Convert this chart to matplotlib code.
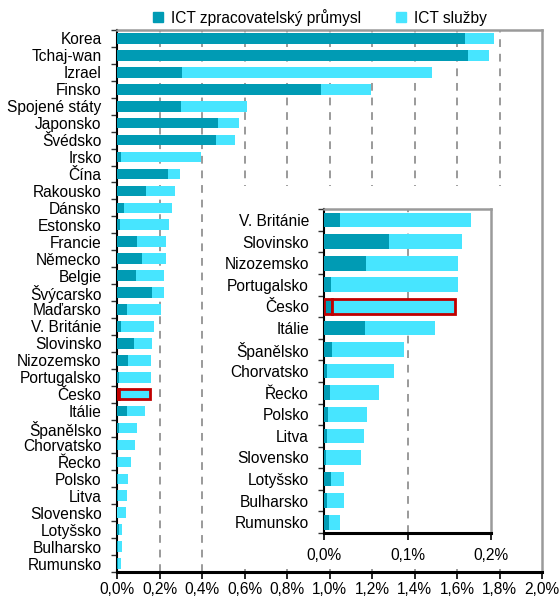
import matplotlib
matplotlib.use("Agg")
import matplotlib.pyplot as plt
from matplotlib.lines import Line2D
from matplotlib.patches import Rectangle
from matplotlib.ticker import FuncFormatter, FixedLocator

plt.rcParams['font.family'] = ['Liberation Sans', 'DejaVu Sans']

countries = ["Korea", "Tchaj-wan", "Izrael", "Finsko", "Spojené státy", "Japonsko",
             "Švédsko", "Irsko", "Čína", "Rakousko", "Dánsko", "Estonsko", "Francie",
             "Německo", "Belgie", "Švýcarsko", "Maďarsko", "V. Británie", "Slovinsko",
             "Nizozemsko", "Portugalsko", "Česko", "Itálie", "Španělsko", "Chorvatsko",
             "Řecko", "Polsko", "Litva", "Slovensko", "Lotyšsko", "Bulharsko", "Rumunsko"]
manufacturing = [1.638, 1.653, 0.306, 0.958, 0.301, 0.475, 0.466, 0.019, 0.240, 0.136,
                 0.033, 0.013, 0.094, 0.118, 0.089, 0.166, 0.047, 0.0188, 0.0777, 0.050,
                 0.0077, 0.009, 0.049, 0.0096, 0.003, 0.0068, 0.0048, 0.0032, 0.0016,
                 0.008, 0.003, 0.006]
services = [0.136, 0.098, 1.176, 0.235, 0.311, 0.101, 0.091, 0.376, 0.056, 0.137,
            0.227, 0.232, 0.135, 0.111, 0.134, 0.055, 0.160, 0.157, 0.088, 0.111,
            0.153, 0.148, 0.084, 0.086, 0.081, 0.059, 0.047, 0.045, 0.043,
            0.0156, 0.0206, 0.0128]
series_names = ["ICT zpracovatelský průmysl", "ICT služby"]
highlight = "Česko"
inset_start = "V. Británie"
main_ticks = [0.0, 0.2, 0.4, 0.6, 0.8, 1.0, 1.2, 1.4, 1.6, 1.8, 2.0]
inset_ticks = [0.0, 0.1, 0.2]

DARK = "#009BB4"
LIGHT = "#47E5FF"
RED = "#C00000"
GRAY = "#9A9A9A"
FS = 11.2

W, H = 560, 596
fig = plt.figure(figsize=(W / 100, H / 100), dpi=100)


def px_axes(l, t, r, b):
    return fig.add_axes([l / W, 1 - b / H, (r - l) / W, (b - t) / H])


def pct(v, pos):
    return ("%.1f%%" % v).replace(".", ",")


def draw(ax, names, man, ser, height, xmax, ticks, gridticks):
    n = len(names)
    ys = list(range(n))
    edge = [RED if c == highlight else "none" for c in names]
    lw = [2.0 if c == highlight else 0 for c in names]
    ax.barh(ys, man, height=height, color=DARK, edgecolor=edge, linewidth=lw, zorder=3)
    ax.barh(ys, ser, left=man, height=height, color=LIGHT, edgecolor=edge,
            linewidth=lw, zorder=3)
    ax.set_ylim(n - 0.5, -0.5)
    ax.set_xlim(0, xmax)
    ax.set_yticks(ys)
    ax.set_yticklabels(names, fontsize=FS)
    ax.yaxis.set_minor_locator(FixedLocator([i + 0.5 for i in range(-1, n)]))
    ax.tick_params(axis='y', which='major', length=0, pad=11)
    ax.tick_params(axis='y', which='minor', length=4, width=1, color="#333333", direction='out')
    ax.set_xticks(ticks)
    ax.xaxis.set_major_formatter(FuncFormatter(pct))
    ax.tick_params(axis='x', which='major', length=5, width=1.2, labelsize=FS, pad=2.5)
    for g in gridticks:
        ax.axvline(g, color=GRAY, lw=1.4, linestyle=(0, (4, 3.5)), zorder=1)
    for s in ("left", "bottom"):
        ax.spines[s].set_color("black")
    ax.spines["left"].set_linewidth(1.5)
    ax.spines["bottom"].set_linewidth(2.2)
    for s in ("top", "right"):
        ax.spines[s].set_color(GRAY)
        ax.spines[s].set_linewidth(1.8)


ax = px_axes(117, 30, 542, 572)
draw(ax, countries, manufacturing, services, 0.63, 2.0, main_ticks, main_ticks[1:-1])

# white area behind the inset
fig.patches.append(Rectangle((215 / W, 1 - 569 / H), (540.5 - 215) / W, (569 - 186) / H,
                             transform=fig.transFigure, facecolor="white",
                             edgecolor="none", zorder=5))

k = countries.index(inset_start)
axi = px_axes(324.3, 209.3, 491, 533)
axi.set_zorder(10)
draw(axi, countries[k:], manufacturing[k:], services[k:], 0.68, 0.2, inset_ticks, [0.1])
axi.tick_params(axis='x', pad=6)

handles = [Line2D([], [], marker='s', linestyle='none', markersize=6.5, color=DARK),
           Line2D([], [], marker='s', linestyle='none', markersize=6.5, color=LIGHT)]
fig.legend(handles, series_names, loc='center', bbox_to_anchor=(0.571, 0.971),
           ncol=2, frameon=False, fontsize=FS, handlelength=0.7, handletextpad=0.5,
           columnspacing=2.2)

fig.savefig("out.png", dpi=100)
